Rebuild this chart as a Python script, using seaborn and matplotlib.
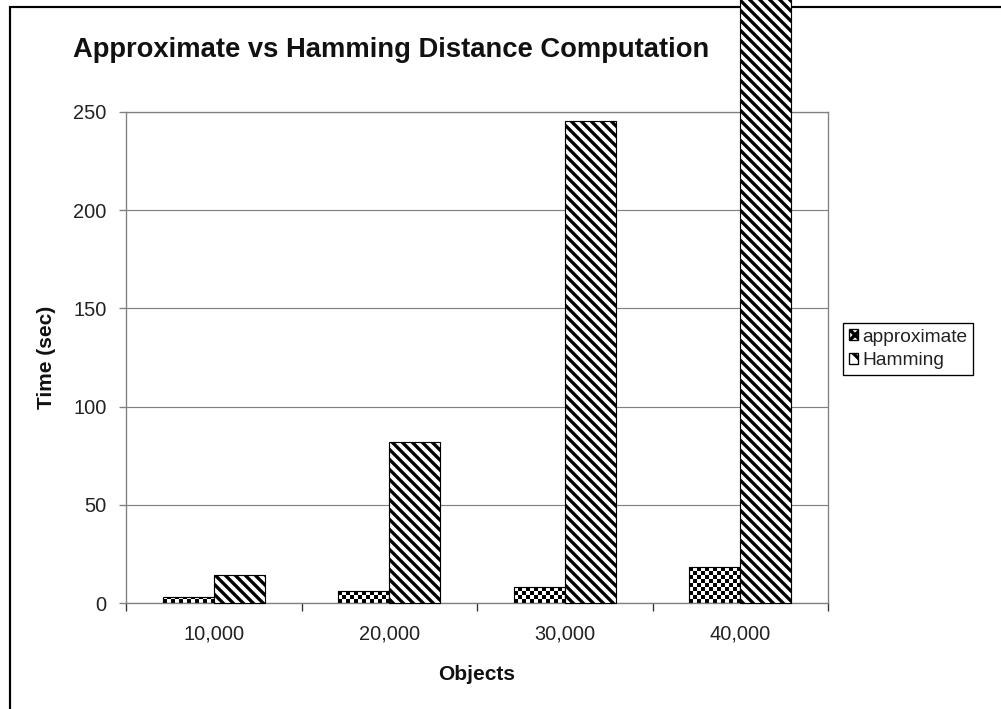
import numpy as np
import pandas as pd
import matplotlib
matplotlib.use("Agg")
import matplotlib.pyplot as plt
from matplotlib.patches import Patch, Rectangle
import seaborn as sns

# --- data -------------------------------------------------------------
objects = ["10,000", "20,000", "30,000", "40,000"]
approximate = [3.0, 6.4, 8.4, 18.3]
hamming = [14.4, 82.0, 245.3, 310.0]
methods = ["approximate", "Hamming"]
y_ticks = [0, 50, 100, 150, 200, 250]

df = pd.DataFrame({
    "Objects": objects * 2,
    "Time": approximate + hamming,
    "Method": [methods[0]] * len(objects) + [methods[1]] * len(objects),
})

# --- style ------------------------------------------------------------
DPI = 120
BSL = chr(92)  # backslash, for the diagonal hatch
sns.set_theme(style="white")
plt.rcParams["font.family"] = ["Liberation Sans", "DejaVu Sans"]
plt.rcParams["hatch.linewidth"] = 2.0

W, H = 1001, 709
fig = plt.figure(figsize=(W / DPI, H / DPI), dpi=DPI)
fig.patch.set_facecolor("white")

# chart-area frame (runs off the right and bottom edges)
fig.patches.append(Rectangle((10 / W, -0.2), 1.5, 1.2 - 7 / H,
                             transform=fig.transFigure, fill=False,
                             edgecolor="black", linewidth=1.3, zorder=-1))

ax = fig.add_axes([126 / W, 105.7 / H, 702 / W, 491.6 / H])

sns.barplot(data=df, x="Objects", y="Time", hue="Method", hue_order=methods,
            order=objects, width=0.58, palette=["white", "white"],
            edgecolor="black", linewidth=0.7, errorbar=None, legend=False,
            saturation=1, ax=ax)

ax.set_xlim(-0.5, 3.5)
ax.set_ylim(0, 250)
ax.set_yticks(y_ticks)
ax.set_yticklabels([str(v) for v in y_ticks])

grey = "#808080"
ax.set_axisbelow(True)
ax.yaxis.grid(True, color=grey, linewidth=0.7)
ax.xaxis.grid(False)
for side in ["left", "bottom", "right", "top"]:
    ax.spines[side].set_visible(True)
    ax.spines[side].set_color(grey)
    ax.spines[side].set_linewidth(0.8)

# category boundary ticks on x, labels centred under each group
ax.set_xticks(np.arange(-0.5, len(objects), 1.0), minor=True)
ax.tick_params(axis="x", which="minor", direction="out", length=4.5,
               width=0.8, color="#333333", bottom=True)
ax.tick_params(axis="x", which="major", length=0, pad=13,
               labelsize=12, labelcolor="#222222")
ax.tick_params(axis="y", which="major", direction="out", length=4.5,
               width=0.8, color=grey, left=True, pad=7,
               labelsize=12, labelcolor="#222222")

ax.set_xlabel("Objects", fontsize=12.5, fontweight="bold", color="#111111")
ax.xaxis.set_label_coords(0.5, -0.125)
ax.set_ylabel("Time (sec)", fontsize=12.5, fontweight="bold", color="#111111")
ax.yaxis.set_label_coords(-0.10, 0.5)

fig.text(73 / W, 1 - 57 / H, "Approximate vs Hamming Distance Computation",
         fontsize=16.4, fontweight="bold", color="#111111",
         ha="left", va="baseline")

# --- fills ------------------------------------------------------------
approx_bars = ax.containers[0]
ham_bars = ax.containers[1]

for p in ham_bars:
    p.set_hatch(BSL * 4)
    p.set_clip_on(False)
    p.set_zorder(3)

# checkerboard texture for the approximate bars, clipped to each bar
cell = 4.0  # pixels
to_disp = ax.transData
for p in approx_bars:
    x0, y0 = p.get_x(), p.get_y()
    w, h = p.get_width(), p.get_height()
    (px0, py0), (px1, py1) = to_disp.transform([(x0, y0), (x0 + w, y0 + h)])
    nx = int(np.ceil((px1 - px0) / cell))
    ny = max(1, int(np.ceil((py1 - py0) / cell)))
    ii, jj = np.indices((ny, nx))
    board = ((ii + jj) % 2).astype(float)
    dx = w / ((px1 - px0) / cell)
    dy = h / ((py1 - py0) / cell)
    im = ax.imshow(board, cmap="gray", vmin=0, vmax=1, origin="lower",
                   interpolation="nearest", aspect="auto",
                   extent=(x0, x0 + nx * dx, y0, y0 + ny * dy), zorder=2.5)
    im.set_clip_path(p)
    p.set_facecolor("none")
    p.set_zorder(3)

ax.set_xlim(-0.5, 3.5)
ax.set_ylim(0, 250)

# --- legend -------------------------------------------------------------
handles = [
    Patch(facecolor="white", edgecolor="black", hatch="xxxx", linewidth=0.8,
          label=methods[0]),
    Patch(facecolor="white", edgecolor="black", hatch=BSL * 2, linewidth=0.8,
          label=methods[1]),
]
leg = fig.legend(handles=handles, loc="upper left",
                 bbox_to_anchor=(843 / W, 1 - 323 / H), borderaxespad=0,
                 frameon=True, fancybox=False, edgecolor="black",
                 framealpha=1, fontsize=11.5, handlelength=0.5,
                 handleheight=0.5, handletextpad=0.2, borderpad=0.3,
                 labelspacing=0.35)
leg.get_frame().set_linewidth(0.8)
for t in leg.get_texts():
    t.set_color("#222222")

fig.savefig("out.png", dpi=DPI, facecolor="white")
